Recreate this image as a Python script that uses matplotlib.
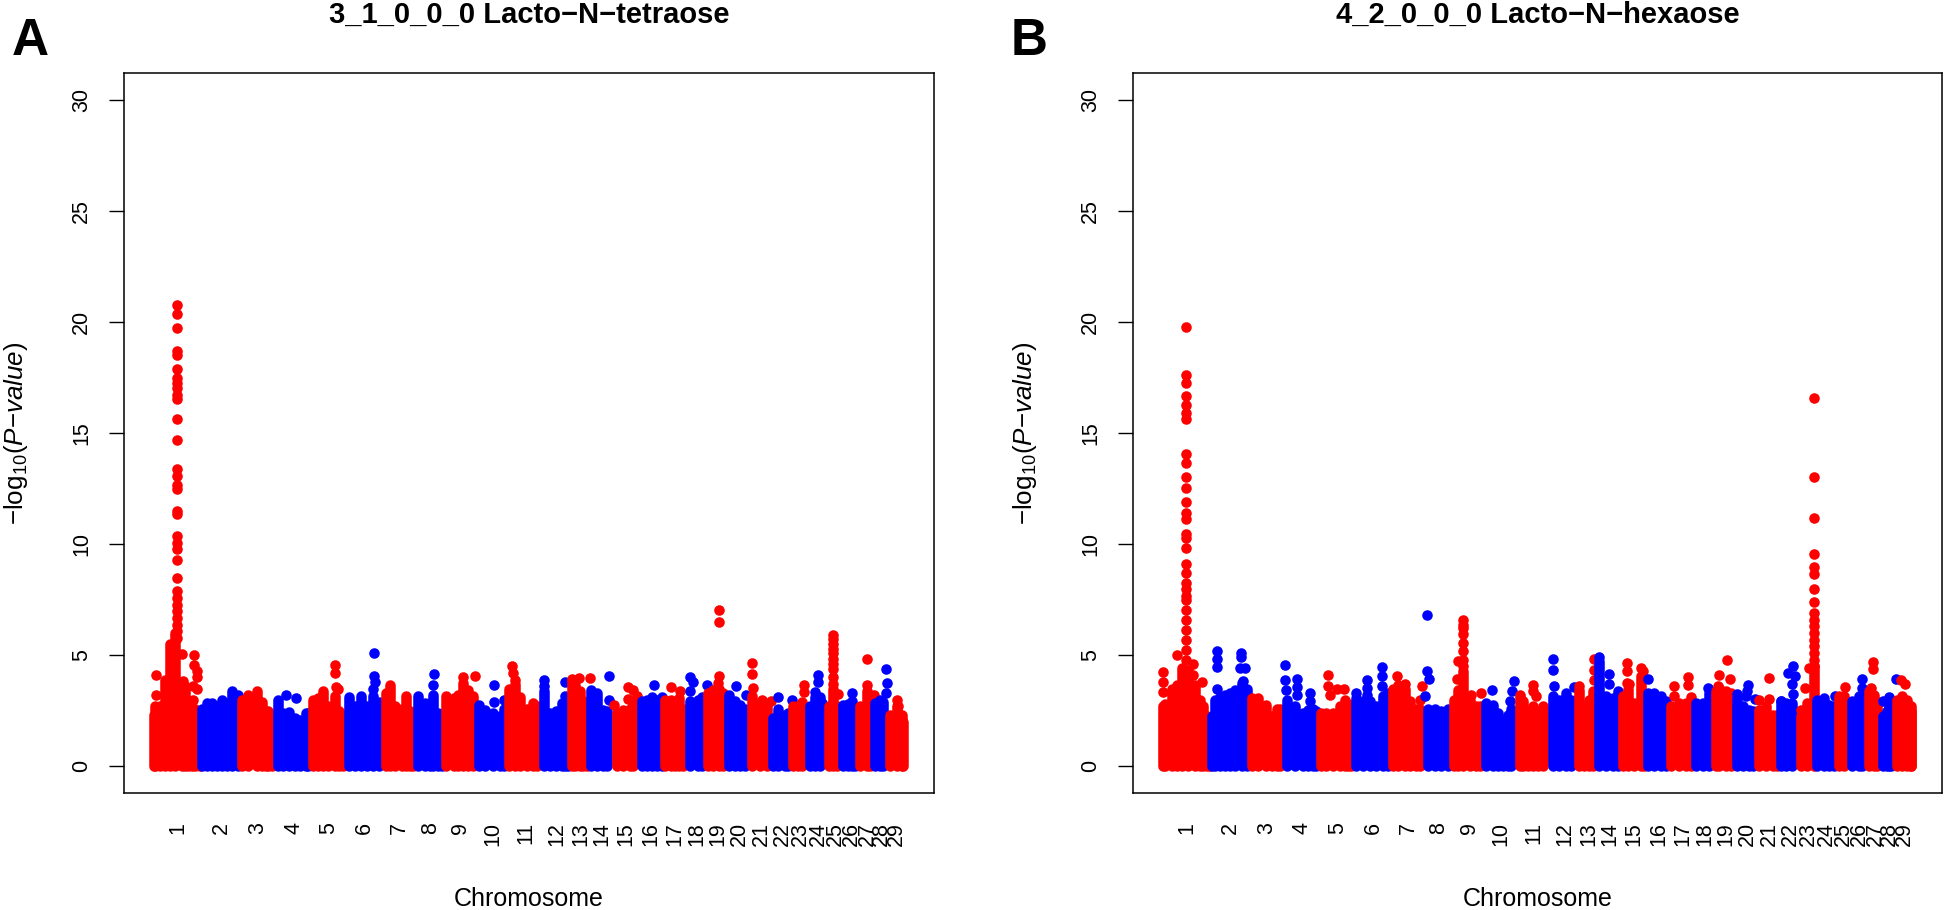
import numpy as np
import matplotlib
matplotlib.use('Agg')
import matplotlib.pyplot as plt

plt.rcParams['font.family'] = ['Liberation Sans', 'DejaVu Sans']
plt.rcParams['mathtext.fontset'] = 'custom'
plt.rcParams['mathtext.rm'] = 'Liberation Sans'
plt.rcParams['mathtext.it'] = 'Liberation Sans:italic'

# x positions are genome units (0 = start of chr 1)
chrom_names = [str(i) for i in range(1, 30)]
chrom_len = [47.5, 39, 35, 36, 35, 36, 34, 28, 32, 32, 34, 28, 20, 22, 26,
             24, 24, 21, 21, 22, 22, 20, 16, 20, 14, 17, 15, 14, 15.5]
y_ticks = [0, 5, 10, 15, 20, 25, 30]

# Panel A: top of the solid mass, (position, -log10 p)
a_columns = [
    (0, 2.3), (1, 2.7), (6, 2.7), (11, 3.9), (16, 5.5), (21, 6.0), (27.7, 3.8), (31, 3.6),
    (34.3, 2.6), (37.7, 2.6), (41, 2.6), (46, 2.2),
    (48, 2.6), (52.7, 2.85), (57.7, 2.85), (62.7, 2.7), (67.7, 3.0), (72.7, 2.85), (78.3, 3.37), (84.3, 3.2),
    (87.7, 3.0), (94.3, 3.2), (102.7, 3.4), (107.7, 2.9), (111.7, 2.47), (114.3, 2.5), (118, 2.3),
    (124.3, 3.0), (129.3, 2.4), (134.7, 2.43), (141, 2.17), (146, 2.1), (151.7, 2.4), (154, 2.4),
    (159.3, 3.0), (164.3, 3.07), (168.7, 3.37), (174.3, 2.7), (181, 3.15), (185, 2.5), (189, 2.3),
    (195.3, 3.1), (201, 2.7), (206.7, 3.15), (212.7, 2.7), (219.3, 3.15), (225.3, 2.9),
    (232, 3.3), (236.3, 3.67), (241, 2.7), (247.7, 2.6), (252.3, 3.15), (256, 2.5), (259, 2.3),
    (264.3, 3.18), (271, 2.85), (276, 2.85), (279.3, 3.2), (284.3, 2.4), (287.7, 2.3),
    (291.7, 3.15), (300, 3.07), (304, 3.2), (308.7, 3.75), (314.3, 3.45), (318.7, 3.15),
    (325.3, 2.74), (331, 2.55), (339.3, 2.4), (346, 2.25), (350.3, 2.6),
    (355, 3.5), (361, 3.7), (366, 3.1), (372.7, 2.6), (379.3, 2.85), (382.7, 2.7),
    (390, 3.37), (396, 2.4), (402, 2.47), (407.7, 2.85), (411, 2.9), (414.3, 2.6),
    (417.7, 3.9), (421, 3.67), (426, 3.37), (429.3, 2.92), (432.7, 2.7),
    (436.7, 3.45), (443.3, 3.3), (449.3, 2.55), (453.3, 2.5),
    (462.7, 2.4), (469.3, 2.55), (476, 2.6), (479.3, 2.8),
    (487.7, 2.92), (492.7, 3.0), (498.3, 3.12), (503.3, 3.0), (507.7, 3.12),
    (511, 3.0), (516.7, 3.0), (521, 2.9), (525.3, 3.07), (529.3, 2.6),
    (536, 2.92), (544.3, 3.0), (547.7, 3.1),
    (554.3, 3.3), (559.3, 3.45), (564.7, 3.5), (569.3, 3.3),
    (575, 3.22), (581, 2.92), (586, 2.77), (591, 2.6),
    (597.7, 3.15), (606, 2.85), (612.7, 2.7),
    (619.3, 2.17), (624.3, 2.58), (631, 2.3), (634.3, 2.4),
    (639, 2.7), (644.3, 2.7), (647.7, 2.9),
    (656, 2.7), (661, 3.12), (666, 3.1),
    (675, 2.7), (679.3, 3.5), (682.7, 2.7),
    (689.3, 2.77), (694.3, 2.8), (698, 2.92), (701, 2.6),
    (706, 2.7), (712.7, 3.37), (716, 3.2),
    (721, 2.85), (726, 3.0), (729.3, 2.9),
    (736, 2.32), (742.7, 2.7), (747.7, 2.32), (749, 2.0),
]

# Panel A: single dots above the mass
a_points = [
    (1.7, 4.12), (1.7, 3.2), (28.3, 5.05), (29.3, 3.82), (39.7, 5.0), (39.7, 4.57), (42.7, 4.27), (42.7, 4.0),
    (38.7, 3.6), (42.7, 3.5), (39.3, 3.0), (132, 3.2), (141.7, 3.07), (181.3, 4.54), (181.3, 4.2), (182, 3.57),
    (184.3, 3.48), (219.7, 5.1), (219.7, 4.08), (221.3, 3.8), (219.3, 3.5), (279.7, 4.17), (279.3, 3.67),
    (308.7, 4.0), (320.7, 4.05), (340, 3.66), (340.3, 2.9), (350.3, 3.0), (357.7, 4.5), (359.3, 4.2), (361, 3.9),
    (390, 3.87), (390, 3.6), (411, 3.78), (411, 3.18), (417.7, 3.94), (424.7, 3.97), (436, 3.97), (455, 4.05),
    (455, 2.97), (459.7, 2.76), (473.7, 3.58), (479.3, 3.42), (473.7, 3.03), (483.3, 3.15), (500, 3.67),
    (516.7, 3.58), (526, 3.37), (536, 4.02), (538.7, 3.78), (536, 3.37), (553, 3.64), (564.7, 7.05), (564.7, 6.5),
    (564.7, 4.05), (564.3, 3.75), (581.7, 3.6), (591.7, 3.2), (598, 4.65), (598, 4.15), (598.7, 3.52), (607.7, 3.0),
    (617, 2.92), (624.3, 3.12), (637.7, 3.0), (650.3, 3.64), (650.3, 3.34), (663.7, 4.12), (663.7, 3.8), (661, 3.34),
    (667.7, 2.85), (684.3, 3.25), (698, 3.3), (712.7, 4.84), (712.7, 3.64), (720.3, 3.2), (731.7, 4.4), (732.7, 3.75),
    (731.7, 3.3), (743, 3.0), (744.3, 2.7),
]

# Panel A: tall peaks, all dots at one position
a_peak1_x = 23.3
a_peak1_y = [20.78, 20.36, 19.73, 18.68, 18.49, 17.89, 17.48, 17.26, 17.03, 16.73, 16.51, 15.64, 14.68, 13.39,
             13.06, 12.64, 12.49, 11.48, 11.34, 10.36, 10.06, 9.76, 9.27, 8.49, 7.87, 7.57, 7.27, 6.97, 6.67,
             6.37, 6.07, 5.77]
a_peak25_x = 679.3
a_peak25_y = [5.9, 5.75, 5.5, 5.3, 5.1, 4.85, 4.6, 4.4, 4.0, 3.7]

# Panel B
b_columns = [
    (0, 2.7), (2, 2.8), (8.7, 3.5), (13.7, 3.67), (18.7, 4.42), (25.3, 4.35), (32, 3.67), (37, 3.0), (40.3, 2.7),
    (43.7, 2.25), (47, 2.2),
    (48.7, 2.25), (52, 3.0), (57, 3.1), (62, 3.2), (67, 3.3), (72, 3.45), (78.7, 3.75), (83.7, 3.5),
    (88.7, 3.07), (95.3, 3.07), (103, 2.74), (108.7, 2.25), (113.7, 2.6), (117, 2.6),
    (123.7, 3.0), (132, 2.7), (140.3, 2.4), (145.3, 2.55), (150.3, 2.6), (153.7, 2.5),
    (158.7, 2.4), (163.7, 2.4), (170.3, 2.4), (177, 2.7), (182, 3.0), (185.3, 2.8), (188.7, 2.5),
    (193.7, 3.07), (200.3, 2.92), (207, 2.92), (213.7, 2.7), (220.3, 3.15), (225.3, 3.3),
    (230.3, 3.5), (235.3, 3.67), (242, 3.5), (247, 2.92), (253.7, 2.6), (257, 2.6),
    (265.3, 2.6), (272, 2.6), (278.7, 2.47), (285.3, 2.6),
    (291, 2.97), (295.3, 3.45), (300.3, 4.3), (307, 2.97), (313.7, 2.7), (317, 2.7),
    (323.7, 2.85), (330.3, 2.77), (335.3, 2.4), (340.3, 2.1), (345.3, 2.32), (348.7, 2.6),
    (357, 3.1), (360.3, 2.92), (365.3, 2.47), (370.3, 2.7), (375.3, 2.47), (381, 2.7),
    (390.3, 3.15), (397, 3.0), (403.7, 3.3), (408.7, 3.0),
    (417, 3.45), (422, 2.7), (427, 3.0), (430.3, 3.37),
    (437, 4.72), (443.7, 3.15), (450.3, 3.07), (455.3, 3.37),
    (460.3, 3.15), (465.3, 3.5), (472, 2.85), (478.7, 4.05), (482, 3.0),
    (485.3, 3.3), (492, 3.3), (498.7, 3.15), (503.7, 2.92),
    (509, 2.7), (517, 2.85), (523.7, 2.85), (528.7, 2.85),
    (533.7, 2.85), (540.3, 2.85), (547, 3.3),
    (554, 3.4), (557, 3.52), (563.7, 3.37), (568.7, 3.3),
    (575, 3.07), (580.3, 2.7), (587, 2.55), (590.3, 2.5),
    (597, 2.55), (603.7, 2.7), (610.3, 2.32), (614.3, 2.3),
    (619, 2.92), (623.7, 2.85), (630.3, 2.85),
    (639, 2.25), (645.3, 2.85), (652, 4.5),
    (655.3, 3.0), (662, 3.07), (667, 2.77), (672, 2.7),
    (677, 3.15), (682, 3.15),
    (690.3, 2.92), (697, 3.15), (700.3, 3.2),
    (707, 3.37), (712, 3.2), (715.3, 2.9),
    (721, 2.25), (725.3, 2.5), (727, 2.7), (728.7, 2.7),
    (735, 3.0), (740.3, 3.15), (745.3, 3.0), (748.7, 2.7), (749, 2.5),
]

b_points = [
    (0.3, 4.24), (0, 3.8), (0.3, 3.34), (13.7, 5.0), (30.3, 4.62), (29.7, 4.12), (39.3, 3.78),
    (54.3, 5.2), (54.3, 4.83), (54.3, 4.47), (54.3, 3.48), (77.7, 5.1), (77.7, 4.92), (77, 4.42), (82, 4.42), (79.7, 3.82),
    (122, 4.57), (122, 3.9), (122.7, 3.42), (134.7, 3.93), (134.7, 3.57), (134.7, 3.22), (147, 3.3), (147, 2.92),
    (165.7, 4.09), (165.7, 3.63), (167, 3.22), (174.3, 3.48), (181.3, 3.49),
    (193, 3.3), (204.7, 3.87), (204.7, 3.52), (204.7, 3.22), (219.3, 4.45), (219.3, 4.05), (219.3, 3.6),
    (234.7, 4.08), (242, 3.72), (259, 3.63), (257.7, 3.0),
    (264.7, 6.82), (264.3, 4.27), (266.3, 3.94), (262.7, 3.15),
    (295.3, 4.72), (294.3, 3.93), (308, 3.22), (318.7, 3.3),
    (329.3, 3.42), (351, 3.82), (349.7, 3.37), (347.7, 2.92),
    (357, 3.22), (370.3, 3.67), (370.3, 3.37), (373.7, 3.15),
    (390.3, 4.83), (390.3, 4.35), (391.3, 3.6), (411.3, 3.57),
    (417, 3.6), (432, 4.84), (432, 4.35), (432, 3.9),
    (437, 4.92), (447, 4.17), (447, 3.72),
    (464.7, 4.65), (464.7, 4.27), (464.7, 3.75), (467, 3.72), (479, 4.42), (481, 4.27),
    (486, 3.94), (511.3, 3.63), (511.3, 3.18), (525.3, 4.02), (525.3, 3.67), (528.7, 3.1), (546, 3.52),
    (564.3, 4.8), (556.3, 4.12), (567.7, 3.93), (556, 3.63),
    (575, 3.27), (585.7, 3.67), (584.3, 3.37), (583.7, 3.15), (592.3, 3.03),
    (607, 3.97), (597, 2.97), (607, 3.03),
    (631, 4.53), (626.3, 4.2), (632.7, 4.05), (629.7, 3.72), (631, 3.25), (619, 2.95),
    (639, 2.55), (643, 3.52), (647, 4.42), (672.7, 3.18), (682.7, 3.55),
    (700.3, 3.94), (700.3, 3.52), (710.7, 4.69), (710.7, 4.39), (708.7, 3.52),
    (721, 2.92), (727, 3.1), (733.7, 3.94), (739.3, 3.9), (743, 3.7),
]

b_peak1_x = 22.7
b_peak1_y = [19.78, 17.59, 17.26, 16.66, 16.24, 15.91, 15.64, 14.07, 13.63, 13.01, 12.54, 11.89, 11.41, 11.11,
             10.44, 10.28, 9.81, 9.12, 8.71, 8.26, 7.96, 7.66, 7.5, 7.05, 6.6, 6.15, 5.7, 5.25, 4.8]
b_peak9_x = 300.3
b_peak9_y = [6.57, 6.35, 6.22, 5.97, 5.55, 5.2, 4.8, 4.5]
b_peak23_x = 652
b_peak23_y = [16.58, 13.0, 11.16, 9.54, 8.97, 8.65, 7.99, 7.39, 6.9, 6.6, 6.3, 6.0, 5.7, 5.4, 5.1, 4.8, 4.5]

W, H = 1946, 910
DOT_PT = 7.6   # dot diameter, about 10.5 px


def ax_rect(left, right, top, bottom):
    return [left / W, 1 - bottom / H, (right - left) / W, (bottom - top) / H]


def manhattan(ax, columns, points, title):
    edges = np.concatenate([[0], np.cumsum(chrom_len)])
    mids = (edges[:-1] + edges[1:]) / 2
    cx, cy = np.array(columns).T
    px, py = np.array(points).T
    c_chr = np.clip(np.searchsorted(edges, cx, side='right') - 1, 0, 28)
    p_chr = np.clip(np.searchsorted(edges, px, side='right') - 1, 0, 28)

    # later chromosomes sit on top of earlier ones
    for i in range(29):
        col = '#FF0000' if i % 2 == 0 else '#0000FF'
        m = c_chr == i
        ax.vlines(cx[m], 0, cy[m], colors=col, linewidth=DOT_PT, capstyle='round', zorder=2 + i)
        m = p_chr == i
        ax.scatter(px[m], py[m], s=DOT_PT ** 2, c=col, linewidths=0, zorder=2 + i)

    ax.set_xlim(-30, 780)
    ax.set_ylim(-1.2, 31.2)
    ax.set_xticks(mids)
    ax.set_xticklabels(chrom_names, rotation=90, fontsize=15.5)
    ax.tick_params(axis='x', length=0, pad=21)
    ax.set_yticks(y_ticks)
    ax.set_yticklabels([str(v) for v in y_ticks], rotation=90, va='center', fontsize=15.5)
    ax.tick_params(axis='y', length=11, width=1, pad=12)
    for s in ax.spines.values():
        s.set_linewidth(1.1)
    ax.set_title(title, fontsize=21, fontweight='bold', pad=36)
    ax.set_xlabel('Chromosome', fontsize=18)
    ax.xaxis.set_label_coords(0.5, -0.13)
    ax.set_ylabel(r'$\mathrm{{-}log}_{10}(\mathit{P{-}value})$', fontsize=18.7)
    ax.yaxis.set_label_coords(-0.116, 0.5)


fig = plt.figure(figsize=(W / 100, H / 100), dpi=100)
ax_a = fig.add_axes(ax_rect(124, 934, 73, 793))
ax_b = fig.add_axes(ax_rect(1133, 1942, 73, 793))

a_all = a_points + [(a_peak1_x, v) for v in a_peak1_y] + [(a_peak25_x, v) for v in a_peak25_y]
b_all = b_points + [(b_peak1_x, v) for v in b_peak1_y] + [(b_peak9_x, v) for v in b_peak9_y] \
    + [(b_peak23_x, v) for v in b_peak23_y]

manhattan(ax_a, a_columns, a_all, '3_1_0_0_0 Lacto\u2212N\u2212tetraose')
manhattan(ax_b, b_columns, b_all, '4_2_0_0_0 Lacto\u2212N\u2212hexaose')

fig.text(12 / W, 1 - 55 / H, 'A', fontsize=37, fontweight='bold', va='baseline')
fig.text(1011 / W, 1 - 55 / H, 'B', fontsize=37, fontweight='bold', va='baseline')

fig.savefig('out.png', dpi=100)
